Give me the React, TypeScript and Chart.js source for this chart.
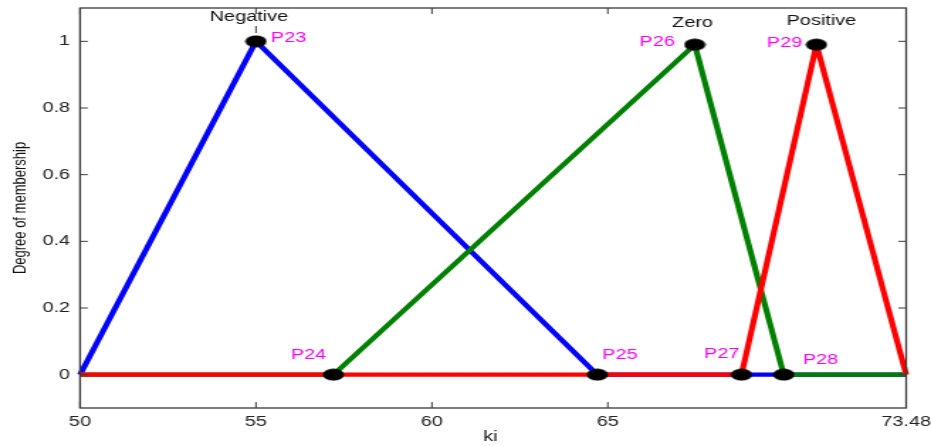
import React, { useEffect, useRef } from "react";
import { Chart, registerables } from "chart.js";

Chart.register(...registerables);

// ---- data ----
const xTicks = [50, 55, 60, 65, 73.48];
const yTicks = [0, 0.2, 0.4, 0.6, 0.8, 1];

const negativeX = [50, 55, 64.7, 73.48];
const negativeY = [0, 1, 0, 0];
const zeroX = [50, 57.2, 67.47, 70, 73.48];
const zeroY = [0, 0, 0.99, 0, 0];
const positiveX = [50, 68.8, 70.93, 73.48];
const positiveY = [0, 0, 0.99, 0];

const pointNames = ["P23", "P24", "P25", "P26", "P27", "P28", "P29"];
const pointX = [55, 57.2, 64.7, 67.47, 68.8, 70, 70.93];
const pointY = [1, 0, 0, 0.99, 0, 0, 0.99];

const mfNames = ["Negative", "Zero", "Positive"];
const mfPeakX = [55, 67.47, 70.93];

// ---- presentation (the source image is stretched horizontally) ----
const OUT_W = 931;
const OUT_H = 446;
const LOG_W = 656;
const STRETCH = OUT_W / LOG_W;

const labelOffsets: [number, number, CanvasTextAlign][] = [
  [10.5, -3, "left"],
  [-5, -20, "right"],
  [3.5, -20, "left"],
  [-14, -3, "right"],
  [-1.5, -21, "right"],
  [13.5, -15, "left"],
  [-10, -2, "right"],
];
const mfOffsets: [number, number][] = [
  [-5, 17],
  [-1.5, 23],
  [3.5, 21],
];

const FONT = "'Liberation Sans', Arial, sans-serif";
const AXIS_COLOR = "#3a3a3a";

function zip(xs: number[], ys: number[]) {
  return xs.map((x, i) => ({ x, y: ys[i] }));
}

function makeDot(): HTMLCanvasElement {
  const c = document.createElement("canvas");
  c.width = 16;
  c.height = 13;
  const g = c.getContext("2d")!;
  g.fillStyle = "#000";
  g.beginPath();
  g.ellipse(8, 6.5, 7.5, 6, 0, 0, Math.PI * 2);
  g.fill();
  return c;
}

export default function App() {
  const ref = useRef<HTMLCanvasElement>(null);

  useEffect(() => {
    const canvas = ref.current!;
    const dot = makeDot();

    const decor = {
      id: "decor",
      afterDraw(chart: any) {
        const ctx = chart.ctx as CanvasRenderingContext2D;
        const { left, right, top, bottom } = chart.chartArea;
        const xs = chart.scales.x;
        const ys = chart.scales.y;
        ctx.save();
        // box
        ctx.strokeStyle = AXIS_COLOR;
        ctx.lineWidth = 1.3;
        ctx.strokeRect(left, top, right - left, bottom - top);
        // ticks
        ctx.lineWidth = 1;
        const tlv = 6;
        const tlh = 5.5;
        ctx.beginPath();
        xTicks.forEach((v) => {
          const px = xs.getPixelForValue(v);
          ctx.moveTo(px, bottom);
          ctx.lineTo(px, bottom - tlv);
          ctx.moveTo(px, top);
          ctx.lineTo(px, top + tlv);
        });
        yTicks.forEach((v) => {
          const py = ys.getPixelForValue(v);
          ctx.moveTo(left, py);
          ctx.lineTo(left + tlh, py);
          ctx.moveTo(right, py);
          ctx.lineTo(right - tlh, py);
        });
        ctx.stroke();
        // small dash under "Negative"
        const nx = xs.getPixelForValue(mfPeakX[0]);
        ctx.beginPath();
        ctx.moveTo(nx, top + 18);
        ctx.lineTo(nx, top + 25);
        ctx.stroke();

        // membership function names
        ctx.fillStyle = "#111";
        ctx.font = `14px ${FONT}`;
        ctx.textAlign = "center";
        ctx.textBaseline = "middle";
        mfNames.forEach((n, i) => {
          const px = xs.getPixelForValue(mfPeakX[i]) + mfOffsets[i][0];
          ctx.fillText(n, px, mfOffsets[i][1]);
        });

        // point labels
        ctx.fillStyle = "#ff00ff";
        ctx.font = `14px ${FONT}`;
        pointNames.forEach((n, i) => {
          const px = xs.getPixelForValue(pointX[i]);
          const py = ys.getPixelForValue(pointY[i]);
          const [dx, dy, al] = labelOffsets[i];
          ctx.textAlign = al;
          ctx.fillText(n, px + dx, py + dy);
        });

        // axis titles
        ctx.fillStyle = "#111";
        ctx.font = `14px ${FONT}`;
        ctx.textAlign = "center";
        ctx.fillText("ki", (left + right) / 2 - 2, 437);
        ctx.translate(14, 208);
        ctx.rotate(-Math.PI / 2);
        ctx.font = `13px ${FONT}`;
        ctx.fillText("Degree of membership", 0, 0);
        ctx.restore();
      },
    };

    const chart = new Chart(canvas, {
      type: "line",
      data: {
        datasets: [
          {
            label: "points",
            data: zip(pointX, pointY),
            showLine: false,
            pointStyle: dot as any,
            pointRadius: 8,
            borderWidth: 0,
          },
          {
            label: "Positive",
            data: zip(positiveX, positiveY),
            borderColor: "#ff0000",
            borderWidth: 4.2,
            pointRadius: 0,
            borderJoinStyle: "round",
          },
          {
            label: "Zero",
            data: zip(zeroX, zeroY),
            borderColor: "#008000",
            borderWidth: 4.2,
            pointRadius: 0,
            borderJoinStyle: "round",
          },
          {
            label: "Negative",
            data: zip(negativeX, negativeY),
            borderColor: "#0000ff",
            borderWidth: 4.2,
            pointRadius: 0,
            borderJoinStyle: "round",
          },
        ],
      },
      options: {
        animation: false,
        responsive: false,
        devicePixelRatio: 1,
        events: [],
        clip: false as any,
        layout: { padding: { left: 0, right: 17.5, top: 7, bottom: 0 } },
        plugins: {
          legend: { display: false },
          tooltip: { enabled: false },
        },
        scales: {
          x: {
            type: "linear",
            min: 50,
            max: 73.48,
            grid: { display: false, drawTicks: false },
            border: { display: false },
            afterBuildTicks: (s: any) => {
              s.ticks = xTicks.map((v) => ({ value: v }));
            },
            afterFit: (s: any) => {
              s.height = 38;
              s.paddingLeft = 0;
              s.paddingRight = 0;
            },
            ticks: {
              padding: 6,
              color: "#222",
              font: { family: FONT, size: 14 },
              maxRotation: 0,
              autoSkip: false,
              callback: (v: any) => String(v),
            },
          },
          y: {
            type: "linear",
            min: -0.1,
            max: 1.1,
            grid: { display: false, drawTicks: false },
            border: { display: false },
            afterBuildTicks: (s: any) => {
              s.ticks = yTicks.map((v) => ({ value: v }));
            },
            afterFit: (s: any) => {
              s.width = 56.4;
              s.paddingTop = 0;
              s.paddingBottom = 0;
            },
            ticks: {
              padding: 7,
              color: "#222",
              font: { family: FONT, size: 14 },
              autoSkip: false,
              callback: (v: any) => String(Math.round(v * 10) / 10),
            },
          },
        },
      },
      plugins: [decor],
    });
    return () => chart.destroy();
  }, []);

  return (
    <div
      style={{
        position: "fixed",
        left: 0,
        top: 0,
        width: OUT_W,
        height: OUT_H,
        background: "#fff",
        overflow: "hidden",
      }}
    >
      <canvas
        ref={ref}
        width={LOG_W}
        height={OUT_H}
        style={{
          display: "block",
          width: LOG_W,
          height: OUT_H,
          transform: `scaleX(${STRETCH})`,
          transformOrigin: "0 0",
        }}
      />
    </div>
  );
}
